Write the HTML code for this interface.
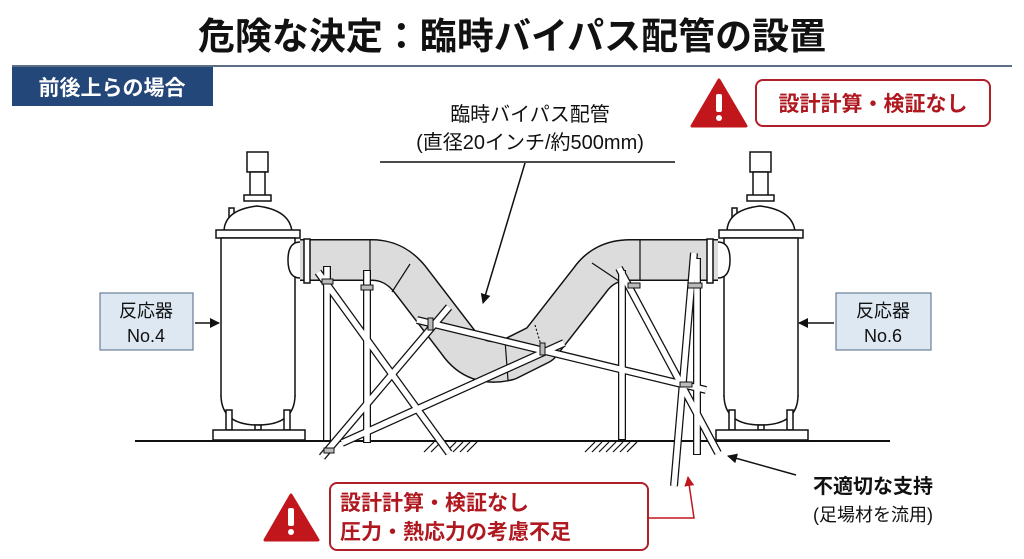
<!DOCTYPE html>
<html><head><meta charset="utf-8"><style>
html,body{margin:0;padding:0;background:#fff;}
svg{display:block;font-family:"Liberation Sans","Noto Sans CJK JP",sans-serif;}
</style></head><body>
<svg width="1024" height="559" viewBox="0 0 1024 559" xmlns="http://www.w3.org/2000/svg">
<defs>
<marker id="ah" markerWidth="10" markerHeight="10" refX="9" refY="5" orient="auto" markerUnits="userSpaceOnUse"><path d="M0,0 L10,5 L0,10 z" fill="#111"/></marker>
<marker id="ahr" markerWidth="10" markerHeight="10" refX="9" refY="5" orient="auto" markerUnits="userSpaceOnUse"><path d="M0,0 L10,5 L0,10 z" fill="#c0161c"/></marker>
</defs>
<text x="512" y="49" text-anchor="middle" font-size="37" font-weight="bold" fill="#111">危険な決定：臨時バイパス配管の設置</text>
<line x1="12" y1="66" x2="1012" y2="66" stroke="#5d6f84" stroke-width="2"/>
<rect x="12" y="67" width="201" height="39" fill="#24477a"/>
<text x="112" y="95" text-anchor="middle" font-size="21" font-weight="bold" fill="#fff">前後上らの場合</text>

<path d="M719,80 L746,126 L692,126 Z" fill="#c0161c" stroke="#c0161c" stroke-width="3" stroke-linejoin="round"/>
<rect x="716" y="94" width="6" height="18" rx="2" fill="#fff"/><circle cx="719" cy="118" r="3" fill="#fff"/>
<rect x="756" y="80" width="234" height="46" rx="7" fill="#fff" stroke="#b02028" stroke-width="2"/>
<text x="873" y="111" text-anchor="middle" font-size="21" font-weight="bold" fill="#b01820">設計計算・検証なし</text>

<text x="530" y="121" text-anchor="middle" font-size="20" fill="#111">臨時バイパス配管</text>
<text x="530" y="149" text-anchor="middle" font-size="20" fill="#111">(直径20インチ/約500mm)</text>
<line x1="380" y1="162" x2="675" y2="162" stroke="#111" stroke-width="1.5"/>
<line x1="525" y1="163" x2="483" y2="303" stroke="#111" stroke-width="1.5" marker-end="url(#ah)"/>

<line x1="135" y1="441" x2="890" y2="441" stroke="#111" stroke-width="2"/>
<g stroke="#111" stroke-width="1.2">
<path d="M424,452 l10,-10 M431,452 l10,-10 M446,452 l10,-10 M453,452 l10,-10 M460,452 l10,-10 M467,452 l10,-10"/>
<path d="M585,452 l10,-10 M592,452 l10,-10 M599,452 l10,-10 M606,452 l10,-10 M613,452 l10,-10 M620,452 l10,-10 M627,452 l10,-10"/>
</g>

<g id="reactor" fill="#fff" stroke="#111" stroke-width="1.5">
<rect x="247" y="152" width="21" height="20"/>
<rect x="250" y="172" width="15" height="25"/>
<rect x="244" y="195" width="27" height="6"/>
<rect x="229" y="208" width="5" height="12"/>
<path d="M224,232 Q224,210 257,206 Q290,210 292,232 Z"/>
<rect x="216" y="230" width="84" height="8"/>
<rect x="221" y="238" width="74" height="158"/>
<path d="M221,395 Q221,425 258,425 Q295,425 295,395"/>
<rect x="226" y="410" width="6" height="20"/>
<rect x="284" y="410" width="6" height="20"/>
<rect x="255" y="425" width="6" height="5"/>
<rect x="213" y="430" width="92" height="10"/>
</g>
<use href="#reactor" transform="translate(503,0)"/>

<path id="pp" d="M300,260 L372,260 Q396,260 412,282 L458,342 Q476,368 508,360 L540,344 L590,280 Q604,260 630,260 L718,260" fill="none" stroke="#111" stroke-width="42" stroke-linejoin="round"/>
<path d="M300,260 L372,260 Q396,260 412,282 L458,342 Q476,368 508,360 L540,344 L590,280 Q604,260 630,260 L718,260" fill="none" stroke="#dcdcdc" stroke-width="39" stroke-linejoin="round"/>
<g stroke="#111" stroke-width="1.2" fill="none">
<line x1="370" y1="240" x2="370" y2="280"/>
<line x1="392" y1="292" x2="410" y2="264"/>
<line x1="505" y1="340" x2="508" y2="380"/>
<line x1="535" y1="325" x2="543" y2="352" stroke-dasharray="2,2"/>
<line x1="592" y1="263" x2="622" y2="283"/>
<line x1="640" y1="240" x2="640" y2="280"/>
</g>
<path d="M300,242 Q288,242 288,260 Q288,278 300,278" fill="#fff" stroke="#111" stroke-width="1.5"/>
<path d="M718,242 Q730,242 730,260 Q730,278 718,278" fill="#fff" stroke="#111" stroke-width="1.5"/>
<rect x="304" y="239" width="6" height="44" fill="#fff" stroke="#111" stroke-width="1.5"/>
<rect x="707" y="239" width="6" height="44" fill="#fff" stroke="#111" stroke-width="1.5"/>

<g stroke-linecap="butt">
<g stroke="#111" stroke-width="8">
<line x1="327" y1="266" x2="327" y2="441"/>
<line x1="367" y1="270" x2="367" y2="443"/>
<line x1="622" y1="270" x2="622" y2="440"/>
<line x1="697" y1="258" x2="697" y2="455"/>
<line x1="318" y1="272" x2="449" y2="453"/>
<line x1="322" y1="457" x2="449" y2="307"/>
<line x1="342" y1="443" x2="564" y2="343"/>
<line x1="619" y1="268" x2="718" y2="453"/>
<line x1="694" y1="253" x2="674" y2="486"/>
<line x1="417" y1="320" x2="706" y2="390"/>
</g>
<g stroke="#fff" stroke-width="5.5">
<line x1="327" y1="267" x2="327" y2="440"/>
<line x1="367" y1="271" x2="367" y2="442"/>
<line x1="622" y1="271" x2="622" y2="439"/>
<line x1="697" y1="259" x2="697" y2="454"/>
<line x1="318" y1="272" x2="449" y2="453"/>
<line x1="322" y1="457" x2="449" y2="307"/>
<line x1="342" y1="443" x2="564" y2="343"/>
<line x1="619" y1="268" x2="718" y2="453"/>
<line x1="694" y1="253" x2="674" y2="486"/>
<line x1="417" y1="320" x2="706" y2="390"/>
</g>
</g>
<g fill="#bbb" stroke="#111" stroke-width="1">
<rect x="322" y="279" width="11" height="5"/>
<rect x="361" y="285" width="12" height="5"/>
<rect x="628" y="283" width="12" height="5"/>
<rect x="688" y="283" width="14" height="5"/>
<rect x="428" y="318" width="5" height="12"/>
<rect x="540" y="343" width="5" height="12"/>
<rect x="680" y="382" width="12" height="5"/>
<rect x="324" y="448" width="10" height="5"/>
</g>

<rect x="100" y="293" width="93" height="57" fill="#dde8f3" stroke="#6a7f96" stroke-width="1.2"/>
<text x="146" y="317" text-anchor="middle" font-size="18" fill="#111">反応器</text>
<text x="146" y="342" text-anchor="middle" font-size="18" fill="#111">No.4</text>
<line x1="195" y1="323" x2="219" y2="323" stroke="#111" stroke-width="1.5" marker-end="url(#ah)"/>
<rect x="836" y="293" width="95" height="57" fill="#dde8f3" stroke="#6a7f96" stroke-width="1.2"/>
<text x="883" y="317" text-anchor="middle" font-size="18" fill="#111">反応器</text>
<text x="883" y="342" text-anchor="middle" font-size="18" fill="#111">No.6</text>
<line x1="834" y1="323" x2="799" y2="323" stroke="#111" stroke-width="1.5" marker-end="url(#ah)"/>

<path d="M291,495 L318,540 L265,540 Z" fill="#c0161c" stroke="#c0161c" stroke-width="3" stroke-linejoin="round"/>
<rect x="288" y="508" width="6" height="18" rx="2" fill="#fff"/><circle cx="291" cy="532" r="3" fill="#fff"/>
<rect x="330" y="483" width="318" height="67" rx="7" fill="#fff" stroke="#b02028" stroke-width="2"/>
<text x="340" y="510" font-size="21" font-weight="bold" fill="#b01820">設計計算・検証なし</text>
<text x="340" y="539" font-size="21" font-weight="bold" fill="#b01820">圧力・熱応力の考慮不足</text>
<polyline points="648,518 694,518 688,477" fill="none" stroke="#c0161c" stroke-width="1.5" marker-end="url(#ahr)"/>

<text x="873" y="493" text-anchor="middle" font-size="20" font-weight="bold" fill="#111">不適切な支持</text>
<text x="873" y="521" text-anchor="middle" font-size="18" fill="#111">(足場材を流用)</text>
<line x1="796" y1="475" x2="728" y2="456" stroke="#111" stroke-width="1.5" marker-end="url(#ah)"/>
</svg>
</body></html>
